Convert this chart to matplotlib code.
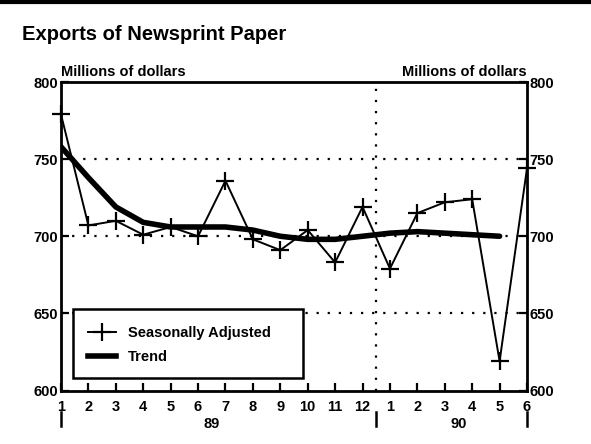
import matplotlib
matplotlib.use("Agg")
import matplotlib.pyplot as plt
from matplotlib.lines import Line2D
from matplotlib.patches import Rectangle

# ---- data ----
month_labels = ["1", "2", "3", "4", "5", "6", "7", "8", "9", "10", "11", "12",
                "1", "2", "3", "4", "5", "6"]
year_labels = ["89", "90"]
seasonally_adjusted = [779, 707, 710, 701, 706, 700, 736, 698, 691, 704, 683, 719,
                       679, 715, 722, 724, 619, 744]
trend = [758, 738, 719, 709, 706, 706, 706, 704, 700, 698, 698, 700,
         702, 703, 702, 701, 700]
y_ticks = [600, 650, 700, 750, 800]

FONT = "Liberation Sans"
plt.rcParams["font.family"] = [FONT, "DejaVu Sans"]
plt.rcParams["font.weight"] = "bold"

fig = plt.figure(figsize=(5.91, 4.44), dpi=100)
ax = fig.add_axes([61 / 591, 1 - 390.5 / 444, (527 - 61) / 591, (390.5 - 82) / 444])

x_sa = list(range(1, len(seasonally_adjusted) + 1))
x_tr = list(range(1, len(trend) + 1))

# grid lines
for v in [650, 700, 750]:
    ax.axhline(v, color="black", linestyle=(0, (1, 4)), linewidth=1.6, zorder=1)
ax.axvline(12.5, color="black", linestyle=(0, (1, 4)), linewidth=1.6, zorder=1)

ax.plot(x_tr, trend, color="black", linewidth=4, solid_capstyle="round", zorder=3)
ax.plot(x_sa, seasonally_adjusted, color="black", linewidth=1.4, marker="+",
        markersize=13, markeredgewidth=1.6, zorder=4, clip_on=False)

ax.set_xlim(1, 18)
ax.set_ylim(600, 800)
ax.set_xticks(x_sa)
ax.set_xticklabels(month_labels)
ax.set_yticks(y_ticks)
ax.set_yticklabels([str(v) for v in y_ticks])
ax.tick_params(axis="both", direction="in", length=6, width=1.6,
               labelsize=10.5, pad=5)
ax.tick_params(axis="y", right=True, labelright=True, left=True, pad=2)
ax.tick_params(axis="x", pad=7)
for lab in ax.get_xticklabels() + ax.get_yticklabels():
    lab.set_fontweight("bold")
for s in ax.spines.values():
    s.set_linewidth(2)

# year separators and labels
trans = ax.get_xaxis_transform()
for xv in [1, 12.5, 18]:
    ax.add_line(Line2D([xv, xv], [-0.07, -0.115], transform=trans,
                       color="black", linewidth=1.8, clip_on=False))
ax.text(6.5, -0.11, year_labels[0], transform=trans, ha="center", va="center",
        fontsize=10.5, fontweight="bold")
ax.text(15.5, -0.11, year_labels[1], transform=trans, ha="center", va="center",
        fontsize=10.5, fontweight="bold")

# axis unit labels
ax.text(0.0, 1.01, "Millions of dollars", transform=ax.transAxes, ha="left",
        va="bottom", fontsize=10.5, fontweight="bold")
ax.text(1.0, 1.01, "Millions of dollars", transform=ax.transAxes, ha="right",
        va="bottom", fontsize=10.5, fontweight="bold")

# title
fig.text(22 / 591, 1 - 40 / 444, "Exports of Newsprint Paper", ha="left",
         va="baseline", fontsize=14.5, fontweight="bold")

# legend
def px2ax(x, y):
    return ((x - 61) / (527 - 61), (390.5 - y) / (390.5 - 82))

x0, y0 = px2ax(73, 378)
x1, y1 = px2ax(303, 309)
ax.add_patch(Rectangle((x0, y0), x1 - x0, y1 - y0, transform=ax.transAxes,
                       facecolor="white", edgecolor="black", linewidth=1.8,
                       zorder=5))
h_sa = Line2D([], [], color="black", linewidth=1.4, marker="+", markersize=13,
              markeredgewidth=1.6)
h_tr = Line2D([], [], color="black", linewidth=4)
lx, ly = px2ax(75, 345)
leg = ax.legend([h_sa, h_tr], ["Seasonally Adjusted", "Trend"],
                loc="center left", bbox_to_anchor=(lx, ly), frameon=False,
                handlelength=1.9, handletextpad=0.8,
                labelspacing=0.7, prop={"weight": "bold", "size": 10.5})
leg.set_zorder(6)

# top scan border
fig.add_artist(Line2D([0, 1], [0.996, 0.996], transform=fig.transFigure,
                      color="black", linewidth=3))

fig.savefig("out.png", dpi=100)
